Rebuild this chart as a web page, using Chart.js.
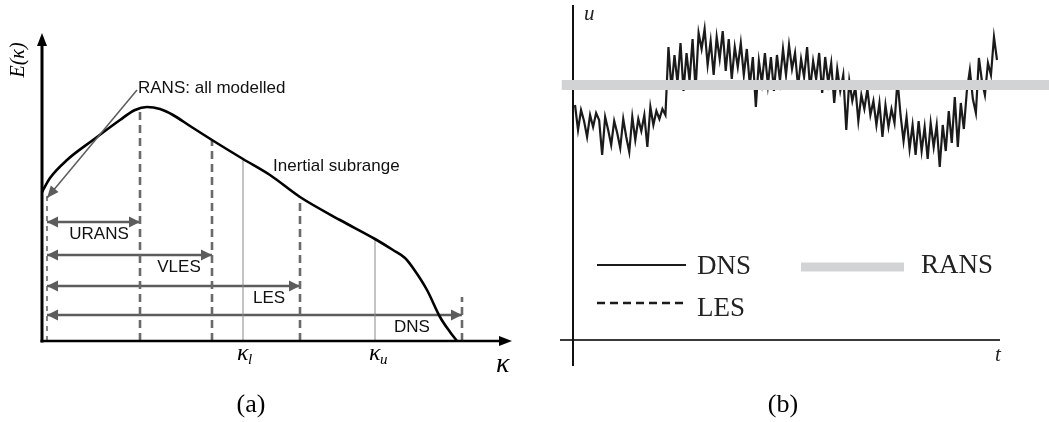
<!DOCTYPE html>
<html>
<head>
<meta charset="utf-8">
<script src="https://cdn.jsdelivr.net/npm/chart.js@4.4.0/dist/chart.umd.min.js"></script>
<style>
  html, body { margin: 0; padding: 0; background: #fff; }
  #wrap { position: relative; width: 1049px; height: 422px; overflow: hidden; }
  #spectrum { position: absolute; left: 0; top: 0; }
  #signal { position: absolute; left: 520px; top: 0; }
</style>
</head>
<body>
<div id="wrap">
  <canvas id="spectrum" width="520" height="422"></canvas>
  <canvas id="signal" width="529" height="422"></canvas>
</div>
<script>
// (a) energy spectrum E(k)
const kappa  = [0, 0.8, 2.5, 5.1, 7.8, 9.3, 10.5, 11.8, 13.1, 14.8, 17.0, 20.1, 22.8, 25.8, 29.8, 33.3, 35.1, 36.3, 37.1, 38.5, 39.8, 40.8, 41.5];
const energy = [14.9, 16.3, 18.1, 20.1, 22.1, 23.1, 23.4, 23.2, 22.6, 21.5, 20.1, 18.2, 16.6, 14.4, 12.1, 10.2, 9.1, 8.3, 7.3, 5.1, 2.4, 0.9, 0];

// cut-off wavenumbers of each approach (dashed verticals)
const cutoffNames = ['RANS', 'URANS', 'VLES', 'LES', 'DNS'];
const cutoffKappa = [0.5, 9.8, 17.0, 25.8, 42.0];
const cutoffTop   = [14.8, 23.3, 20.1, 14.4, 4.4];

// resolved ranges (double arrows)
const rangeNames = ['URANS', 'VLES', 'LES', 'DNS'];
const rangeEnd   = [9.8, 17.0, 25.8, 42.0];
const rangeLevel = [11.9, 8.6, 5.5, 2.6];

// bounds of the inertial subrange
const markNames = ['l', 'u'];
const markKappa = [20.1, 33.3];
const markTop   = [18.2, 10.2];

// (b) velocity signal u(t)
const uDNS = [
  -2.0, -4.5, -2.5, -3.6, -5.2, -3.0, -4.2, -2.8, -3.5, -7.0,
  -3.2, -4.5, -6.0, -3.6, -4.8, -6.3, -3.4, -5.2, -6.7, -3.2,
  -5.5, -3.4, -4.6, -3.0, -6.2, -2.2, -4.0, -2.6, -3.4, -2.4,
  -3.0, 3.8, -0.4, 3.0, 0.2, 4.2, -0.6, 3.2, 0.4, 4.6,
  -0.5, 5.2, 3.6, 5.6, 2.0, 4.4, 1.0, 4.8, 2.6, 5.4,
  1.4, 4.6, 0.6, 3.8, 1.8, 4.2, 1.0, 3.6, 0.0, 2.8,
  -2.2, 2.4, 0.2, 3.2, 0.0, 2.8, -0.6, 3.0, 0.4, 3.6,
  1.0, 4.0, 1.6, 3.2, -0.2, 2.6, 0.8, 3.8, -0.4, 2.4,
  0.6, 3.2, -0.8, 2.8, 0.2, 2.2, -1.8, 1.6, -0.6, 1.0,
  -4.5, 0.4, -1.6, -0.2, -3.6, -1.0, -2.4, -0.4, -3.0, -1.6,
  -4.0, -1.8, -5.2, -2.0, -4.2, -2.4, -3.8, 0.5, -3.0, -5.6,
  -3.2, -6.4, -4.0, -7.0, -3.6, -6.6, -4.2, -7.4, -3.8, -6.2,
  -4.0, -8.2, -4.0, -6.6, -2.6, -5.8, -1.2, -6.2, -1.8, -4.4,
  -0.6, 1.5, -1.4, -2.8, 2.7, 0.4, -1.0, 2.2, 1.0, 4.8, 2.5
];
const uRANS = 0;
const tRANS = [-4.4, 157.5];

const GREY = '#5c5c5c';
const SANS = '"Liberation Sans", Arial, sans-serif';
const SERIF = '"Liberation Serif", "Times New Roman", serif';

function arrowHead(ctx, x, y, ang, len, half) {
  const c = Math.cos(ang), s = Math.sin(ang);
  ctx.beginPath();
  ctx.moveTo(x, y);
  ctx.lineTo(x - len * c + half * s, y - len * s - half * c);
  ctx.lineTo(x - len * c - half * s, y - len * s + half * c);
  ctx.closePath();
  ctx.fill();
}

// label placement for panel (a), in data units
const rangeLabelKappa = [5.7, 13.7, 22.7, 37.0];
const ransNote = { text: 'RANS: all modelled', x: 9.6, y: 24.8, from: [9.5, 25.1], to: [0.5, 14.3] };
const inertialNote = { text: 'Inertial subrange', x: 23.1, y: 17.0 };

const spectrumDecor = {
  id: 'spectrumDecor',
  afterDatasetsDraw(chart) {
    const ctx = chart.ctx, a = chart.chartArea;
    const xs = chart.scales.x, ys = chart.scales.y;
    ctx.save();

    // arrow heads on the range datasets
    ctx.fillStyle = GREY;
    chart.data.datasets.forEach((ds, i) => {
      if (!ds.isRange) return;
      const pts = chart.getDatasetMeta(i).data;
      arrowHead(ctx, pts[0].x, pts[0].y, Math.PI, 11, 5.5);
      arrowHead(ctx, pts[1].x, pts[1].y, 0, 11, 5.5);
    });

    // range labels
    ctx.font = '17px ' + SANS;
    ctx.fillStyle = '#111';
    ctx.textAlign = 'center';
    ctx.textBaseline = 'alphabetic';
    rangeNames.forEach((n, i) => {
      ctx.fillText(n, xs.getPixelForValue(rangeLabelKappa[i]), ys.getPixelForValue(rangeLevel[i]) + 17);
    });

    // RANS leader line
    const fx = xs.getPixelForValue(ransNote.from[0]), fy = ys.getPixelForValue(ransNote.from[1]);
    const tx = xs.getPixelForValue(ransNote.to[0]), ty = ys.getPixelForValue(ransNote.to[1]);
    ctx.strokeStyle = GREY;
    ctx.lineWidth = 1.5;
    ctx.beginPath();
    ctx.moveTo(fx, fy);
    ctx.lineTo(tx, ty);
    ctx.stroke();
    ctx.fillStyle = GREY;
    arrowHead(ctx, tx, ty, Math.atan2(ty - fy, tx - fx), 12, 5);

    ctx.fillStyle = '#111';
    ctx.textAlign = 'left';
    ctx.fillText(ransNote.text, xs.getPixelForValue(ransNote.x), ys.getPixelForValue(ransNote.y));
    ctx.fillText(inertialNote.text, xs.getPixelForValue(inertialNote.x), ys.getPixelForValue(inertialNote.y));

    // axes with arrows
    ctx.strokeStyle = '#000';
    ctx.fillStyle = '#000';
    ctx.lineWidth = 3;
    ctx.beginPath();
    ctx.moveTo(a.left, a.bottom + 1.5);
    ctx.lineTo(a.left, a.top + 10);
    ctx.stroke();
    arrowHead(ctx, a.left, a.top, -Math.PI / 2, 13, 5);
    ctx.lineWidth = 2.5;
    ctx.beginPath();
    ctx.moveTo(a.left - 1.5, a.bottom);
    ctx.lineTo(a.right - 10, a.bottom);
    ctx.stroke();
    arrowHead(ctx, a.right, a.bottom, 0, 13, 5);

    // axis labels
    ctx.save();
    ctx.translate(19, 60);
    ctx.rotate(-Math.PI / 2);
    ctx.textAlign = 'center';
    ctx.textBaseline = 'middle';
    ctx.font = 'italic 20px ' + SERIF;
    ctx.fillText('E(κ)', 0, 0);
    ctx.restore();

    ctx.textAlign = 'left';
    ctx.textBaseline = 'alphabetic';
    markNames.forEach((n, i) => {
      const px = xs.getPixelForValue(markKappa[i]);
      ctx.font = 'italic 24px ' + SERIF;
      ctx.fillText('κ', px - 6, 360);
      ctx.font = 'italic 15px ' + SERIF;
      ctx.fillText(n, px + 5, 364);
    });
    ctx.font = 'italic 28px ' + SERIF;
    ctx.fillText('κ', 496, 372);

    ctx.textAlign = 'center';
    ctx.font = '26px ' + SERIF;
    ctx.fillText('(a)', 251, 412);
    ctx.restore();
  }
};

const spectrumSets = [
  {
    label: 'E(κ)',
    data: kappa.map((k, i) => ({ x: k, y: energy[i] })),
    borderColor: '#000', borderWidth: 2.6,
    cubicInterpolationMode: 'monotone', pointRadius: 0
  },
  ...cutoffKappa.map((k, i) => ({
    label: cutoffNames[i] + ' cut-off',
    data: [{ x: k, y: 0 }, { x: k, y: cutoffTop[i] }],
    borderColor: '#6a6a6a',
    borderWidth: i === 0 ? 1.6 : 2.6,
    borderDash: i === 0 ? [5, 5] : [8, 5],
    pointRadius: 0
  })),
  ...markKappa.map((k, i) => ({
    label: 'κ' + markNames[i],
    data: [{ x: k, y: 0 }, { x: k, y: markTop[i] }],
    borderColor: '#8a8a8a', borderWidth: 1, pointRadius: 0
  })),
  ...rangeEnd.map((k, i) => ({
    label: rangeNames[i],
    data: [{ x: cutoffKappa[0], y: rangeLevel[i] }, { x: k, y: rangeLevel[i] }],
    borderColor: GREY, borderWidth: 2.6, pointRadius: 0, isRange: true
  }))
];

new Chart(document.getElementById('spectrum'), {
  type: 'line',
  data: { datasets: spectrumSets },
  options: {
    responsive: false,
    animation: false,
    layout: { padding: { left: 42, right: 8, top: 33, bottom: 81 } },
    scales: {
      x: { type: 'linear', display: false, min: 0, max: 47 },
      y: { type: 'linear', display: false, min: 0, max: 30.8 }
    },
    plugins: { legend: { display: false }, tooltip: { enabled: false } }
  },
  plugins: [spectrumDecor]
});

// legend placement for panel (b), canvas pixels
const legendSpots = {
  DNS:  { x: 77,  y: 265, len: 89,  textX: 177, base: 274 },
  LES:  { x: 77,  y: 303, len: 89,  textX: 177, base: 316 },
  RANS: { x: 281, y: 267, len: 103, textX: 401, base: 273 }
};

const signalDecor = {
  id: 'signalDecor',
  beforeDatasetsDraw(chart) {
    const ctx = chart.ctx, a = chart.chartArea;
    ctx.save();
    ctx.strokeStyle = '#3a3a3a';
    ctx.lineWidth = 2;
    ctx.beginPath();
    ctx.moveTo(40, a.bottom);
    ctx.lineTo(a.right, a.bottom);
    ctx.stroke();
    ctx.strokeStyle = '#111';
    ctx.beginPath();
    ctx.moveTo(a.left + 1, 5);
    ctx.lineTo(a.left + 1, 366);
    ctx.stroke();
    ctx.restore();
  },
  afterDraw(chart) {
    const ctx = chart.ctx;
    ctx.save();
    ctx.fillStyle = '#222';
    ctx.textBaseline = 'alphabetic';
    ctx.font = 'italic 21px ' + SERIF;
    ctx.fillText('u', 64, 20);
    ctx.fillText('t', 475, 361);

    chart.data.datasets.forEach(ds => {
      const s = legendSpots[ds.label];
      if (!s) return;
      ctx.strokeStyle = ds.borderColor;
      ctx.lineWidth = ds.label === 'RANS' ? 9 : (ds.label === 'LES' ? 2.6 : 1.8);
      ctx.setLineDash(ds.borderDash || []);
      ctx.beginPath();
      ctx.moveTo(s.x, s.y);
      ctx.lineTo(s.x + s.len, s.y);
      ctx.stroke();
      ctx.setLineDash([]);
      ctx.fillStyle = '#222';
      ctx.font = '27px ' + SERIF;
      ctx.fillText(ds.label, s.textX, s.base);
    });

    ctx.textAlign = 'center';
    ctx.fillStyle = '#000';
    ctx.font = '26px ' + SERIF;
    ctx.fillText('(b)', 263, 412);
    ctx.restore();
  }
};

new Chart(document.getElementById('signal'), {
  type: 'line',
  data: {
    datasets: [
      {
        label: 'RANS',
        data: tRANS.map(t => ({ x: t, y: uRANS })),
        borderColor: '#d1d3d4', borderWidth: 10, pointRadius: 0,
        clip: false, order: 0
      },
      {
        label: 'DNS',
        data: uDNS.map((u, i) => ({ x: i, y: u })),
        borderColor: '#1b1b1b', borderWidth: 2.2, pointRadius: 0,
        tension: 0, order: 1
      },
      {
        label: 'LES',
        data: [],
        borderColor: '#1b1b1b', borderWidth: 2.6, borderDash: [8, 5],
        pointRadius: 0, order: 2
      }
    ]
  },
  options: {
    responsive: false,
    animation: false,
    layout: { padding: { left: 52, right: 49, top: 5, bottom: 82 } },
    scales: {
      x: { type: 'linear', display: false, min: -1, max: 141 },
      y: { type: 'linear', display: false, min: -25.5, max: 8 }
    },
    plugins: { legend: { display: false }, tooltip: { enabled: false } }
  },
  plugins: [signalDecor]
});
</script>
</body>
</html>
